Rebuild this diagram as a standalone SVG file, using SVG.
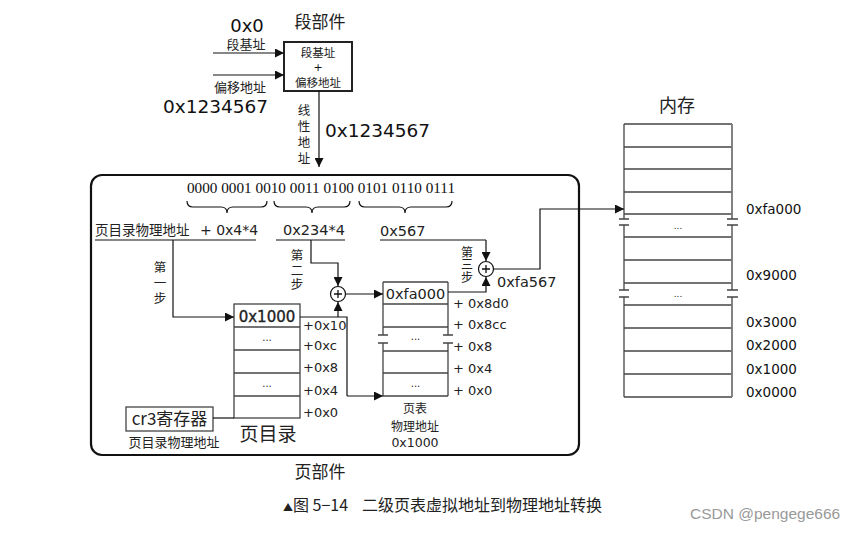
<svg xmlns="http://www.w3.org/2000/svg" width="853" height="533" viewBox="0 0 853 533">
<defs>
<marker id="ah" viewBox="0 0 10 10" refX="10" refY="5" markerWidth="9" markerHeight="9" markerUnits="userSpaceOnUse" orient="auto">
<path d="M0,0 L10,5 L0,10 z" fill="#111"/>
</marker>
</defs>
<style>
.cn{font-family:"Noto Sans CJK SC","Noto Sans",sans-serif;fill:#222}
.vt{font-family:"Noto Sans CJK SC","Noto Sans",sans-serif;fill:#222;writing-mode:vertical-rl}
.dv{font-family:"DejaVu Sans",sans-serif;fill:#111}
.lb{font-family:"DejaVu Sans","Liberation Sans",sans-serif;fill:#222}
.sf{font-family:"Liberation Serif","DejaVu Serif",serif;fill:#111}
.ln{fill:none;stroke:#111;stroke-width:1.2}
.cx{fill:none;stroke:#111;stroke-width:1.2;marker-end:url(#ah)}
.tb{fill:#fff;stroke:#444;stroke-width:1.3}
.rl{stroke:#444;stroke-width:1.3}
.tk{stroke:#444;stroke-width:1.3}
.ci{fill:#fff;stroke:#111;stroke-width:1.2}
</style>
<rect width="853" height="533" fill="#fff"/>

<!-- Segment unit -->
<g id="segment">
<text class="cn" x="320" y="28" font-size="17" text-anchor="middle">段部件</text>
<rect x="284" y="42" width="68" height="49" fill="#fff" stroke="#222" stroke-width="2"/>
<text class="cn" x="318" y="57" font-size="11.5" text-anchor="middle">段基址</text>
<text class="dv" x="318" y="70.5" font-size="11" text-anchor="middle">+</text>
<text class="cn" x="318" y="86.5" font-size="11.5" text-anchor="middle">偏移地址</text>
</g>
<g id="seg-inputs">
<text class="dv" x="247" y="32" font-size="18" text-anchor="middle">0x0</text>
<text class="cn" x="246" y="49" font-size="13" text-anchor="middle">段基址</text>
<text class="cn" x="240" y="92" font-size="13" text-anchor="middle">偏移地址</text>
<text class="dv" x="163" y="113" font-size="18.5">0x1234567</text>
</g>
<g id="linear">
<text class="vt" x="304" y="104" font-size="12.5" letter-spacing="3.5">线性地址</text>
<text class="dv" x="325" y="137" font-size="18.5">0x1234567</text>
</g>

<!-- Page unit frame -->
<g id="page-unit">
<rect x="91" y="175" width="488" height="280" rx="11" fill="none" stroke="#111" stroke-width="2.2"/>
<text class="cn" x="320" y="478" font-size="17" text-anchor="middle">页部件</text>
</g>

<g id="binary">
<text class="sf" x="187" y="193" font-size="14.5" textLength="268" lengthAdjust="spacingAndGlyphs">0000 0001 0010 0011 0100 0101 0110 0111</text>
<path class="ln" d="M187,201 Q187,207 193,207 L221,207 Q227,207 227,213 Q227,207 233,207 L261,207 Q267,207 267,201"/>
<path class="ln" d="M274,201 Q274,207 280,207 L306,207 Q312,207 312,213 Q312,207 318,207 L344,207 Q350,207 350,201"/>
<path class="ln" d="M359,201 Q359,207 365,207 L399,207 Q405,207 405,213 Q405,207 411,207 L446,207 Q452,207 452,201"/>
</g>

<g id="dir-index">
<text class="cn" x="95" y="235" font-size="13.5">页目录物理地址</text>
<text class="lb" x="200" y="235" font-size="14">+ 0x4*4</text>
<line class="ln" x1="95" y1="240" x2="256" y2="240"/>
<text class="vt" x="160" y="261" font-size="12.5" letter-spacing="3">第一步</text>
</g>
<g id="table-index">
<text class="lb" x="283" y="235" font-size="14.5">0x234*4</text>
<line class="ln" x1="276" y1="240" x2="345" y2="240"/>
<text class="vt" x="297" y="249" font-size="12.5" letter-spacing="2">第二步</text>
</g>
<g id="offset">
<text class="lb" x="380" y="236" font-size="14.5">0x567</text>
<line class="ln" x1="380" y1="240" x2="486" y2="240"/>
<text class="vt" x="467" y="246" font-size="12" letter-spacing="0.5">第三步</text>
</g>

<g id="sum2">
<circle class="ci" cx="338" cy="294" r="7.5"/>
<path d="M334,294 H342 M338,290 V298" stroke="#111" stroke-width="1.3"/>
</g>
<g id="sum3">
<circle class="ci" cx="486" cy="269" r="7.5"/>
<path d="M482,269 H490 M486,265 V273" stroke="#111" stroke-width="1.3"/>
<text class="lb" x="497" y="287" font-size="14.5">0xfa567</text>
</g>

<!-- Page directory -->
<g id="page-directory">
<rect class="tb" x="234" y="304" width="66" height="114"/>
<line class="rl" x1="234" y1="327" x2="300" y2="327"/>
<line class="rl" x1="234" y1="350" x2="300" y2="350"/>
<line class="rl" x1="234" y1="373" x2="300" y2="373"/>
<line class="rl" x1="234" y1="396" x2="300" y2="396"/>
<text class="lb" x="267" y="322" font-size="15" text-anchor="middle" stroke="#222" stroke-width="0.35">0x1000</text>
<text class="lb" x="267" y="341" font-size="10" text-anchor="middle">...</text>
<text class="lb" x="267" y="387" font-size="10" text-anchor="middle">...</text>
<text class="lb" font-size="13"><tspan x="303" y="330">+0x10</tspan><tspan x="303" y="350">+0xc</tspan><tspan x="303" y="372">+0x8</tspan><tspan x="303" y="395">+0x4</tspan><tspan x="303" y="417">+0x0</tspan></text>
<text class="cn" x="268" y="441" font-size="19" text-anchor="middle">页目录</text>
</g>

<g id="cr3">
<rect x="126" y="407" width="87" height="24" fill="#fff" stroke="#444" stroke-width="1.3"/>
<text class="cn" x="169.5" y="425" font-size="17" text-anchor="middle">cr3寄存器</text>
<text class="cn" x="174" y="447" font-size="13" text-anchor="middle">页目录物理地址</text>
</g>

<!-- Page table -->
<g id="page-table">
<line class="rl" x1="383" y1="282" x2="448" y2="282"/>
<line class="rl" x1="383" y1="304" x2="448" y2="304"/>
<line class="rl" x1="383" y1="327" x2="448" y2="327"/>
<line class="rl" x1="383" y1="351" x2="448" y2="351"/>
<line class="rl" x1="383" y1="373" x2="448" y2="373"/>
<line class="rl" x1="383" y1="396" x2="448" y2="396"/>
<path class="rl" d="M383,282 V335 M383,343 V396 M448,282 V335 M448,343 V396" fill="none"/>
<path class="tk" d="M378,335 H388 M378,343 H388 M443,335 H453 M443,343 H453"/>
<text class="lb" x="415.5" y="299" font-size="14.5" text-anchor="middle">0xfa000</text>
<text class="lb" x="415.5" y="340" font-size="10" text-anchor="middle">...</text>
<text class="lb" x="415.5" y="387" font-size="10" text-anchor="middle">...</text>
<text class="lb" font-size="13"><tspan x="453" y="308">+ 0x8d0</tspan><tspan x="453" y="329">+ 0x8cc</tspan><tspan x="453" y="351">+ 0x8</tspan><tspan x="453" y="373">+ 0x4</tspan><tspan x="453" y="395">+ 0x0</tspan></text>
<text class="cn" x="415" y="413" font-size="12" text-anchor="middle">页表</text>
<text class="cn" x="415" y="431" font-size="12" text-anchor="middle">物理地址</text>
<text class="lb" x="415" y="447" font-size="12.5" text-anchor="middle">0x1000</text>
</g>

<!-- Memory -->
<g id="memory">
<text class="cn" x="677" y="112" font-size="18" text-anchor="middle">内存</text>
<line class="rl" x1="624" y1="124" x2="732" y2="124"/>
<line class="rl" x1="624" y1="147" x2="732" y2="147"/>
<line class="rl" x1="624" y1="169" x2="732" y2="169"/>
<line class="rl" x1="624" y1="192" x2="732" y2="192"/>
<line class="rl" x1="624" y1="214" x2="732" y2="214"/>
<line class="rl" x1="624" y1="237" x2="732" y2="237"/>
<line class="rl" x1="624" y1="260" x2="732" y2="260"/>
<line class="rl" x1="624" y1="283" x2="732" y2="283"/>
<line class="rl" x1="624" y1="305" x2="732" y2="305"/>
<line class="rl" x1="624" y1="328" x2="732" y2="328"/>
<line class="rl" x1="624" y1="351" x2="732" y2="351"/>
<line class="rl" x1="624" y1="374" x2="732" y2="374"/>
<line class="rl" x1="624" y1="397" x2="732" y2="397"/>
<path class="rl" d="M624,124 V219 M624,225 V290 M624,297 V397" fill="none"/>
<path d="M732,124 V219 M732,225 V290 M732,297 V397" fill="none" stroke="#777" stroke-width="1.8"/>
<path class="tk" d="M619,219 H629 M619,225 H629 M727,219 H738 M727,225 H738 M619,290 H629 M619,297 H629 M727,290 H738 M727,297 H738"/>
<text class="lb" x="678" y="229" font-size="9" text-anchor="middle">...</text>
<text class="lb" x="678" y="297" font-size="9" text-anchor="middle">...</text>
<text class="dv" font-size="13.5"><tspan x="746" y="214">0xfa000</tspan><tspan x="746" y="280">0x9000</tspan><tspan x="746" y="327">0x3000</tspan><tspan x="746" y="350">0x2000</tspan><tspan x="746" y="374">0x1000</tspan><tspan x="746" y="397">0x0000</tspan></text>
</g>

<!-- Connectors -->
<g id="connectors">
<line class="cx" x1="213" y1="53" x2="284" y2="53"/>
<line class="cx" x1="213" y1="75" x2="284" y2="75"/>
<line class="cx" x1="319" y1="91" x2="319" y2="167"/>
<path class="cx" d="M173,240 V317 H234"/>
<path class="cx" d="M311,240 V263 H338 V286"/>
<path class="cx" d="M486,240 V261"/>
<path class="ln" d="M300,317 H347 V396"/>
<path class="cx" d="M338,317 V302"/>
<path class="cx" d="M347,396 H383"/>
<path class="cx" d="M345.5,294 H383"/>
<path class="cx" d="M448,292 H486 V277"/>
<path class="cx" d="M493.5,269 H540 V209 H624"/>
<line class="ln" x1="213" y1="418" x2="234" y2="418"/>
</g>

<g id="caption">
<text class="cn" x="283" y="511" font-size="16" fill="#222"><tspan font-size="10">▲</tspan>图 5−14<tspan dx="14">二级页表虚拟地址到物理地址转换</tspan></text>
<text x="690" y="519" font-family="Liberation Sans, sans-serif" font-size="15.5" fill="#999">CSDN @pengege666</text>
</g>
</svg>
